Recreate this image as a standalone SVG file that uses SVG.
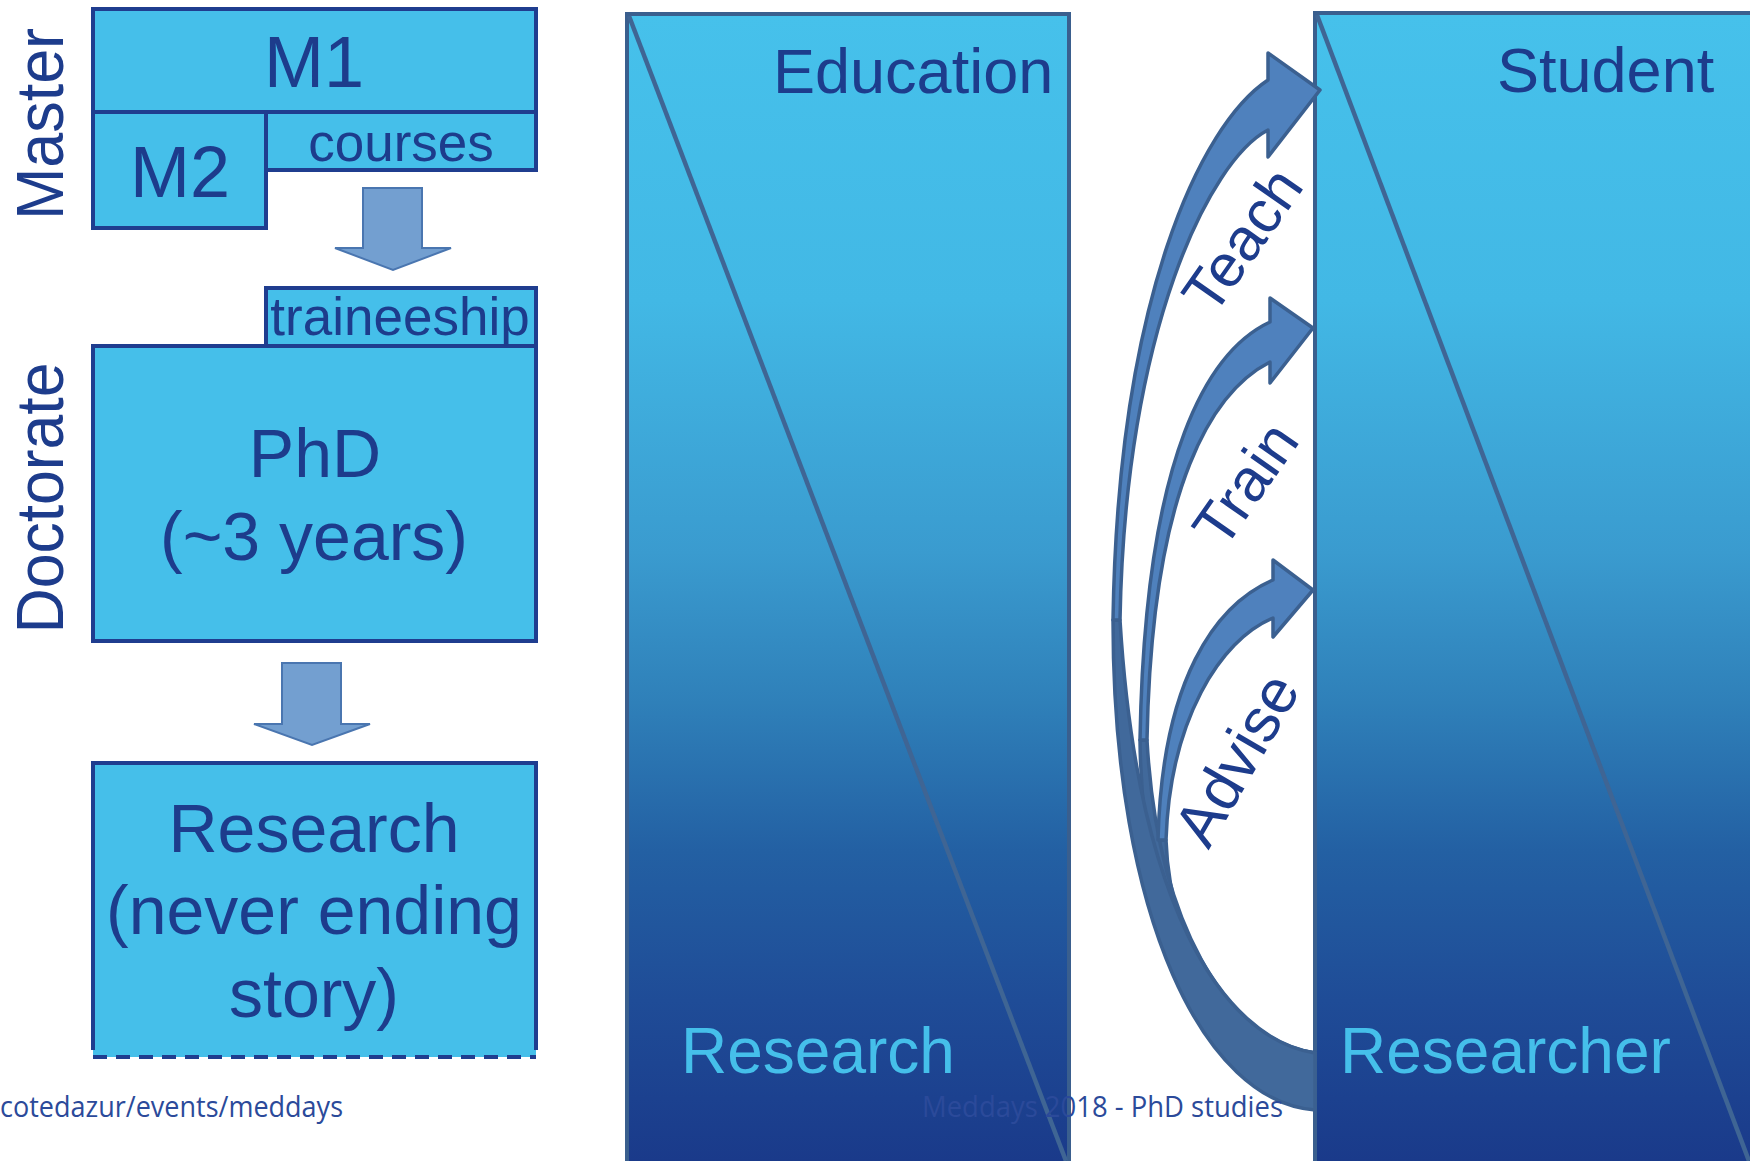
<svg xmlns="http://www.w3.org/2000/svg" width="1750" height="1161" viewBox="0 0 1750 1161">
<defs>
<linearGradient id="colg" gradientUnits="userSpaceOnUse" x1="0" y1="14" x2="0" y2="1161">
<stop offset="0" stop-color="#46C1EB"/>
<stop offset="0.25" stop-color="#42B8E5"/>
<stop offset="0.47" stop-color="#3A9BCF"/>
<stop offset="0.6" stop-color="#2F80B9"/>
<stop offset="0.73" stop-color="#2360A3"/>
<stop offset="0.86" stop-color="#1F4C97"/>
<stop offset="1" stop-color="#1A3A8A"/>
</linearGradient>
<style>
.box{fill:#45BFEA;stroke:#1F3D8F;stroke-width:4}
.t{font-family:"Liberation Sans",Arial,sans-serif;fill:#1D3C8C}
.tl{font-family:"Liberation Sans",Arial,sans-serif;fill:#45BFEA}
.blk{fill:#739FD0;stroke:#4A76B0;stroke-width:2}
.col{fill:url(#colg);stroke:#3A5F8E;stroke-width:4}
.diag{fill:none;stroke:#3F6594;stroke-width:4.5}
.af{fill:#4F81BD;stroke:#3B6090;stroke-width:3.5;stroke-linejoin:round}
.ab{fill:#41699B;stroke:#3B6090;stroke-width:3.5;stroke-linejoin:round}
.foot{font-family:"Open Sans","Noto Sans",sans-serif;fill:#2B4A9A;font-size:29px}
</style>
</defs>

<g id="master-label"><text class="t" font-size="66" text-anchor="middle" textLength="192" lengthAdjust="spacingAndGlyphs" transform="translate(63,124) rotate(-90)">Master</text></g>
<g id="doctorate-label"><text class="t" font-size="66" text-anchor="middle" textLength="271" lengthAdjust="spacingAndGlyphs" transform="translate(63,498) rotate(-90)">Doctorate</text></g>

<g id="m1"><rect class="box" x="93" y="9" width="443" height="103"/><text class="t" x="314" y="87" font-size="72" text-anchor="middle">M1</text></g>
<g id="m2"><rect class="box" x="93" y="112" width="173" height="116"/><text class="t" x="180" y="197" font-size="72" text-anchor="middle">M2</text></g>
<g id="courses"><rect class="box" x="266" y="112" width="270" height="58"/><text class="t" x="401" y="161" font-size="53" text-anchor="middle">courses</text></g>

<g id="phd"><rect class="box" x="93" y="346" width="443" height="295"/><text class="t" x="315" y="477" font-size="68" text-anchor="middle">PhD</text><text class="t" x="314" y="560" font-size="68" text-anchor="middle">(~3 years)</text></g>
<g id="traineeship"><rect class="box" x="266" y="288" width="270" height="58"/><text class="t" x="400" y="335" font-size="53" text-anchor="middle">traineeship</text></g>

<g id="research-box"><rect x="93" y="763" width="443" height="294" fill="#45BFEA"/><path d="M93,1050 V763 H536 V1050" fill="none" stroke="#1F3D8F" stroke-width="4"/><path d="M93,1057 H536" stroke="#1F3D8F" stroke-width="4" stroke-dasharray="14 9"/>
<text class="t" x="314" y="852" font-size="68" text-anchor="middle">Research</text>
<text class="t" x="314" y="934" font-size="68" text-anchor="middle">(never ending</text>
<text class="t" x="314" y="1017" font-size="68" text-anchor="middle">story)</text></g>

<g id="education-col"><rect class="col" x="627" y="14" width="442" height="1170"/><path class="diag" d="M629,16 L1066,1161"/><text class="t" x="773" y="93" font-size="63">Education</text><text class="tl" x="681" y="1073" font-size="64">Research</text></g>

<g id="student-col"><rect class="col" x="1315" y="13" width="460" height="1170"/><path class="diag" d="M1317,15 L1749,1161"/><text class="t" x="1497" y="92" font-size="63">Student</text><text class="tl" x="1340" y="1073" font-size="64">Researcher</text></g>

<g id="connectors">
<polygon class="blk" points="363,188 422,188 422,248 451,248 393,270 335,248 363,248"/>
<polygon class="blk" points="282,663 341,663 341,724 370,724 312,745 254,724 282,724"/>
<path class="ab" d="M1158,840 C1158,980 1225,1098 1315,1108 L1315,1053 C1240,1043 1170,960 1166,840 Z"/>
<path class="ab" d="M1140,740 C1142,940 1220,1090 1315,1108 L1315,1053 C1225,1040 1157,920 1147,740 Z"/>
<path class="ab" d="M1113,620 C1113,920 1205,1102 1315,1110 L1315,1053 C1220,1038 1137,900 1120,620 Z"/>
<path class="af" d="M1113,620 C1118,300 1200,125 1268,80 L1268,53 L1320,90 L1268,157 L1268,130 C1210,160 1125,330 1120,620 Z"/>
<path class="af" d="M1140,740 C1145,450 1210,350 1270,322 L1270,298 L1313,328 L1270,383 L1270,362 C1215,390 1152,480 1147,740 Z"/>
<path class="af" d="M1158,840 C1162,680 1215,605 1273,580 L1273,560 L1313,590 L1273,637 L1273,618 C1220,640 1170,720 1166,840 Z"/>
</g>

<g id="arrow-labels">
<text class="t" font-size="60" text-anchor="middle" transform="translate(1242,240) rotate(-55)" y="21">Teach</text>
<text class="t" font-size="60" text-anchor="middle" transform="translate(1245,484) rotate(-55)" y="21">Train</text>
<text class="t" font-size="62" text-anchor="middle" transform="translate(1236,759) rotate(-60)" y="22">Advise</text>
</g>

<g id="footer">
<text class="foot" x="0" y="1117" textLength="343" lengthAdjust="spacingAndGlyphs">cotedazur/events/meddays</text>
<text class="foot" x="922" y="1117" textLength="361" lengthAdjust="spacingAndGlyphs">Meddays 2018 - PhD studies</text>
</g>
</svg>
